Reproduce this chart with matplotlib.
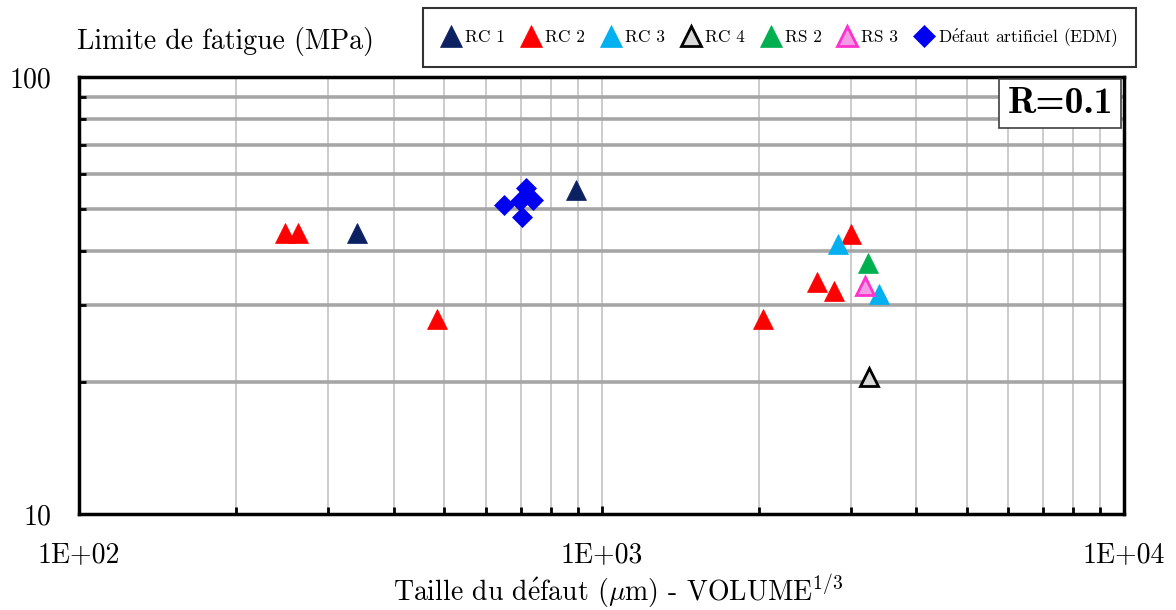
import matplotlib
matplotlib.use("Agg")
import matplotlib.pyplot as plt
from matplotlib.ticker import FixedLocator, NullFormatter

plt.rcParams['font.family'] = ['cmr10', 'DejaVu Serif']
plt.rcParams['mathtext.fontset'] = 'cm'
plt.rcParams['axes.unicode_minus'] = False

# ---- data ----
rc1_x = [340, 895]
rc1_y = [44, 55]
rc2_x = [248, 262, 484, 2040, 2580, 2780, 3000]
rc2_y = [44, 44, 28, 28, 34, 32.4, 43.7]
rc3_x = [2840, 3390]
rc3_y = [41.5, 31.8]
rc4_x = [3250]
rc4_y = [20.6]
rs2_x = [3230]
rs2_y = [37.5]
rs3_x = [3200]
rs3_y = [33.2]
edm_x = [652, 716, 741, 703, 697]
edm_y = [50.9, 55.7, 52.3, 47.8, 52.0]

x_major = [100, 1000, 10000]
x_major_labels = ["1E+02", "1E+03", "1E+04"]
y_major = [10, 100]
y_major_labels = ["10", "100"]

W, H = 1176, 610
fig = plt.figure(figsize=(W / 100, H / 100), dpi=100)
ax = fig.add_axes([79 / W, 1 - 514 / H, (1124 - 79) / W, (514 - 77) / H])
ax.set_xscale('log')
ax.set_yscale('log')
ax.set_xlim(100, 10000)
ax.set_ylim(10, 100)

series = [
    ("RC 1", rc1_x, rc1_y, dict(marker='^', color='#0B2161', mec='#0B2161', ms=14, mew=0.5)),
    ("RC 2", rc2_x, rc2_y, dict(marker='^', color='#FF0000', mec='#FF0000', ms=14, mew=0.5)),
    ("RC 3", rc3_x, rc3_y, dict(marker='^', color='#00B0F0', mec='#00B0F0', ms=14, mew=0.5)),
    ("RC 4", rc4_x, rc4_y, dict(marker='^', color='#D9D9D9', mec='#000000', ms=13, mew=2)),
    ("RS 2", rs2_x, rs2_y, dict(marker='^', color='#00B050', mec='#00B050', ms=14, mew=0.5)),
    ("RS 3", rs3_x, rs3_y, dict(marker='^', color='#F59BE6', mec='#FF33CC', ms=13, mew=2)),
    (r"D$\acute{\mathrm{e}}$faut artificiel (EDM)", edm_x, edm_y,
     dict(marker='D', color='#0000F0', mec='#0000F0', ms=10, mew=0.5)),
]
handles = []
for name, xs, ys, st in series:
    ln, = ax.plot(xs, ys, linestyle='none', label=name, zorder=3, **st)
    handles.append(ln)

# ticks
ax.xaxis.set_major_locator(FixedLocator(x_major))
ax.set_xticklabels(x_major_labels)
x_minor = [m * d for d in (100, 1000) for m in range(2, 10)]
ax.xaxis.set_minor_locator(FixedLocator(x_minor))
ax.xaxis.set_minor_formatter(NullFormatter())
ax.yaxis.set_major_locator(FixedLocator(y_major))
ax.set_yticklabels(y_major_labels)
y_minor = [m * 10 for m in range(2, 10)]
ax.yaxis.set_minor_locator(FixedLocator(y_minor))
ax.yaxis.set_minor_formatter(NullFormatter())

ax.tick_params(axis='x', which='major', direction='in', length=6, width=2, labelsize=20, pad=20)
ax.tick_params(axis='x', which='minor', direction='in', length=5, width=2)
ax.tick_params(axis='y', which='major', direction='in', length=0, labelsize=20, pad=20)
ax.tick_params(axis='y', which='minor', direction='in', length=5, width=2)

ax.xaxis.grid(True, which='both', color='#C8C8C8', linewidth=1.3, zorder=0)
ax.yaxis.grid(True, which='minor', color='#A6A6A6', linewidth=2.6, zorder=0)
ax.yaxis.grid(False, which='major')
ax.set_axisbelow(True)
for sp in ax.spines.values():
    sp.set_linewidth(2.5)
    sp.set_color('black')

# labels
fig.text(77 / W, 1 - 42 / H, "Limite de fatigue (MPa)", fontsize=20, ha='left', va='center')
fig.text(618 / W, 1 - 592 / H, r"Taille du d$\acute{\mathrm{e}}$faut ($\mathrm{\mu}$m) - VOLUME$^{1/3}$",
         fontsize=20, ha='center', va='center')

# R box
ax.text(0.9895, 0.977, "R=0.1", transform=ax.transAxes, ha='right', va='top',
        fontsize=27, family=['cmb10', 'DejaVu Serif'],
        bbox=dict(boxstyle='square,pad=0.22', facecolor='white', edgecolor='#404040', linewidth=1.2),
        zorder=5)

leg = fig.legend(handles=handles, loc='center', bbox_to_anchor=(779.5 / W, 1 - 37.5 / H),
                 ncol=7, fontsize=12.5, frameon=True, fancybox=False, borderpad=1.05,
                 handletextpad=0.2, columnspacing=0.9, handlelength=1.2, markerscale=1.1)
leg.get_frame().set_edgecolor('black')
leg.get_frame().set_linewidth(1.5)

fig.savefig("out.png", dpi=100)
